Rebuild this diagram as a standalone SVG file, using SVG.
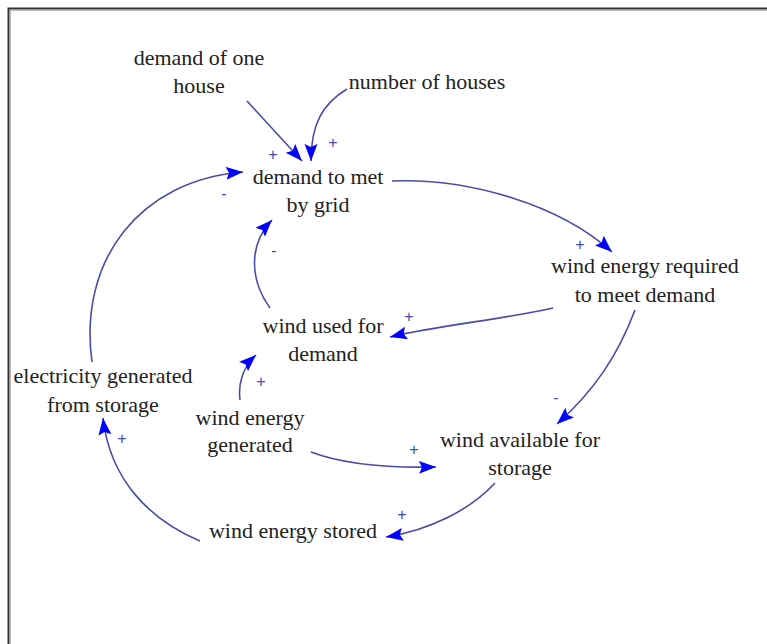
<svg xmlns="http://www.w3.org/2000/svg" width="767" height="644" viewBox="0 0 767 644">
<defs>
<marker id="ah" markerUnits="userSpaceOnUse" markerWidth="20" markerHeight="14" refX="17" refY="6.5" orient="auto">
<path d="M0,0 L17,6.5 L0,13 L3,6.5 Z" fill="#0000ff"/>
</marker>
<style>
text{font-family:"Liberation Serif","Times New Roman",serif;font-size:22px;fill:#222;text-anchor:middle}
.pol{font-family:"Liberation Sans",Arial,sans-serif;font-size:16px;fill:#4848b0}
.c path{fill:none;stroke:#4a4aa8;stroke-width:1.6;marker-end:url(#ah)}
</style>
</defs>
<rect width="767" height="644" fill="#fff"/>
<path d="M8.5,660 L8.5,8.5 L780,8.5" fill="none" stroke="#333" stroke-width="2"/>
<path d="M10.5,660 L10.5,10.5 L780,10.5" fill="none" stroke="#bbb" stroke-width="1"/>
<g class="c" id="connectors">
<path d="M247,101 L302,161"/>
<path d="M347,89 C322,104 311,125 311,161"/>
<path d="M92,362 C78,260 140,180 243,172"/>
<path d="M270,308 C250,280 248,245 272,220"/>
<path d="M392,181 C470,178 560,205 612,252"/>
<path d="M553,308 C500,320 440,325 390,337"/>
<path d="M635,310 C618,355 595,390 557,424"/>
<path d="M240,400 C238,385 242,368 256,355"/>
<path d="M311,452 C345,465 390,468 436,467"/>
<path d="M495,483 C470,510 430,530 386,537"/>
<path d="M200,541 C150,520 110,480 103,418"/>
</g>
<g id="polarities">
<text class="pol" x="273" y="160">+</text>
<text class="pol" x="333" y="148">+</text>
<text class="pol" x="224" y="199">-</text>
<text class="pol" x="274" y="256">-</text>
<text class="pol" x="580" y="250">+</text>
<text class="pol" x="409" y="322">+</text>
<text class="pol" x="556" y="403">-</text>
<text class="pol" x="261" y="387">+</text>
<text class="pol" x="414" y="455">+</text>
<text class="pol" x="402" y="520">+</text>
<text class="pol" x="122" y="444">+</text>
</g>
<g id="n_demand_one_house"><text x="199" y="65">demand of one</text><text x="199" y="93">house</text></g>
<g id="n_number_houses"><text x="427" y="89">number of houses</text></g>
<g id="n_demand_grid"><text x="318" y="184">demand to met</text><text x="318" y="212">by grid</text></g>
<g id="n_wind_required"><text x="645" y="273">wind energy required</text><text x="645" y="302">to meet demand</text></g>
<g id="n_wind_used"><text x="323" y="333">wind used for</text><text x="323" y="361">demand</text></g>
<g id="n_elec_storage"><text x="103" y="383">electricity generated</text><text x="103" y="412">from storage</text></g>
<g id="n_wind_generated"><text x="250" y="425">wind energy</text><text x="250" y="452">generated</text></g>
<g id="n_wind_available"><text x="520" y="447">wind available for</text><text x="520" y="475">storage</text></g>
<g id="n_wind_stored"><text x="293" y="538">wind energy stored</text></g>
</svg>
